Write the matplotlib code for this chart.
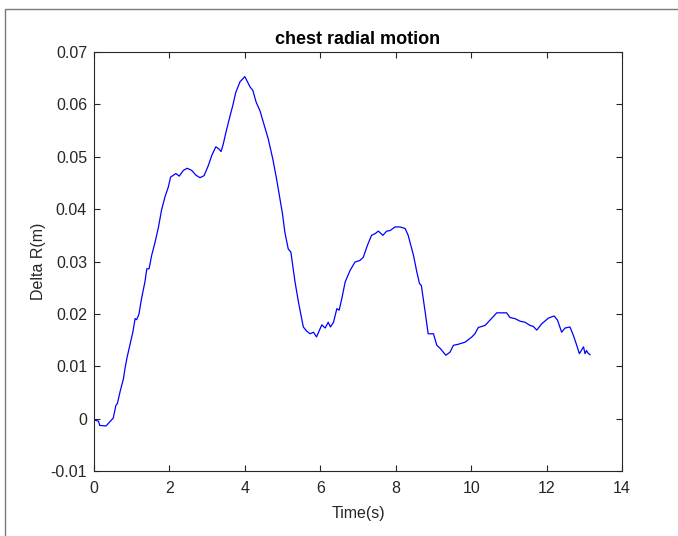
import matplotlib
matplotlib.use("Agg")
import matplotlib.pyplot as plt
from matplotlib.patches import Rectangle

plt.rcParams['font.family'] = ['Liberation Sans', 'DejaVu Sans']

# chest radial motion trace
time_s = [0.00, 0.03, 0.12, 0.15, 0.32, 0.42, 0.51, 0.58, 0.62, 0.69, 0.78, 0.82,
          0.88, 0.95, 1.03, 1.09, 1.13, 1.19, 1.26, 1.35, 1.40, 1.46, 1.53, 1.62,
          1.71, 1.79, 1.88, 1.97, 2.03, 2.09, 2.17, 2.26, 2.37, 2.47, 2.59, 2.70,
          2.81, 2.92, 3.03, 3.12, 3.23, 3.31, 3.37, 3.43, 3.50, 3.59, 3.68, 3.76,
          3.87, 4.00, 4.07, 4.14, 4.21, 4.30, 4.40, 4.49, 4.62, 4.74, 4.84, 4.93,
          5.00, 5.06, 5.15, 5.22, 5.33, 5.42, 5.55, 5.64, 5.73, 5.82, 5.90, 6.04,
          6.13, 6.21, 6.27, 6.35, 6.44, 6.50, 6.57, 6.66, 6.79, 6.92, 7.05, 7.14,
          7.25, 7.36, 7.45, 7.54, 7.66, 7.76, 7.85, 7.98, 8.11, 8.25, 8.33, 8.47,
          8.56, 8.63, 8.68, 8.78, 8.86, 9.00, 9.09, 9.18, 9.26, 9.33, 9.44, 9.53,
          9.66, 9.84, 10.02, 10.10, 10.19, 10.37, 10.50, 10.68, 10.94, 11.03, 11.16,
          11.30, 11.43, 11.56, 11.65, 11.74, 11.87, 12.05, 12.20, 12.29, 12.40,
          12.49, 12.62, 12.71, 12.80, 12.87, 12.98, 13.02, 13.06, 13.10, 13.15]
delta_r = [-0.0001, -0.0003, -0.0005, -0.0013, -0.0014, -0.0006, 0.0001, 0.0025,
           0.0029, 0.0051, 0.0076, 0.0095, 0.0118, 0.0140, 0.0165, 0.0191, 0.0189,
           0.0199, 0.0229, 0.0261, 0.0286, 0.0286, 0.0312, 0.0337, 0.0366, 0.0398,
           0.0423, 0.0442, 0.0461, 0.0464, 0.0468, 0.0463, 0.0474, 0.0478, 0.0474,
           0.0465, 0.0460, 0.0464, 0.0483, 0.0502, 0.0519, 0.0515, 0.0510, 0.0525,
           0.0547, 0.0573, 0.0598, 0.0623, 0.0643, 0.0653, 0.0643, 0.0633, 0.0627,
           0.0604, 0.0588, 0.0566, 0.0534, 0.0496, 0.0458, 0.0420, 0.0390, 0.0356,
           0.0324, 0.0318, 0.0261, 0.0223, 0.0175, 0.0167, 0.0162, 0.0165, 0.0156,
           0.0179, 0.0173, 0.0184, 0.0175, 0.0184, 0.0210, 0.0207, 0.0229, 0.0261,
           0.0283, 0.0299, 0.0302, 0.0308, 0.0331, 0.0350, 0.0353, 0.0358, 0.0350,
           0.0358, 0.0359, 0.0366, 0.0366, 0.0363, 0.0350, 0.0312, 0.0280, 0.0258,
           0.0254, 0.0204, 0.0162, 0.0162, 0.0140, 0.0134, 0.0127, 0.0121, 0.0127,
           0.0140, 0.0142, 0.0146, 0.0156, 0.0162, 0.0174, 0.0178, 0.0188, 0.0202,
           0.0202, 0.0193, 0.0191, 0.0186, 0.0184, 0.0178, 0.0176, 0.0169, 0.0181,
           0.0192, 0.0196, 0.0188, 0.0165, 0.0173, 0.0175, 0.0159, 0.0140, 0.0124,
           0.0137, 0.0124, 0.0130, 0.0125, 0.0122]

x_ticks = [0, 2, 4, 6, 8, 10, 12, 14]
y_ticks = [-0.01, 0, 0.01, 0.02, 0.03, 0.04, 0.05, 0.06, 0.07]
y_tick_labels = ['-0.01', '0', '0.01', '0.02', '0.03', '0.04', '0.05', '0.06', '0.07']

fig = plt.figure(figsize=(6.78, 5.36), dpi=100)
ax = fig.add_axes([94 / 678, 1 - 471 / 536, 528 / 678, 419 / 536])

ax.plot(time_s, delta_r, color='#0000ff', linewidth=0.9)

ax.set_xlim(0, 14)
ax.set_ylim(-0.01, 0.07)
ax.set_xticks(x_ticks)
ax.set_yticks(y_ticks)
ax.set_yticklabels(y_tick_labels)

axis_col = '#262626'
for sp in ax.spines.values():
    sp.set_color(axis_col)
    sp.set_linewidth(0.8)
ax.tick_params(direction='in', length=4, width=0.8, colors=axis_col,
               top=True, right=True, labelsize=11.5)
ax.tick_params(axis='x', pad=7.5)
ax.tick_params(axis='y', pad=5)

ax.set_title('chest radial motion', fontsize=13, fontweight='bold', pad=6)
ax.set_xlabel('Time(s)', fontsize=11.5, color=axis_col, labelpad=7)
ax.set_ylabel('Delta R(m)', fontsize=11.5, color=axis_col, labelpad=3)

# outer window frame seen at the top-left of the screenshot
frame = Rectangle((5 / 678, -0.1), 1.2, 1 - 9 / 536 + 0.1, transform=fig.transFigure,
                  fill=False, edgecolor='#7a7a7a', linewidth=1.0, clip_on=False)
fig.patches.append(frame)

fig.savefig('out.png', dpi=100)
